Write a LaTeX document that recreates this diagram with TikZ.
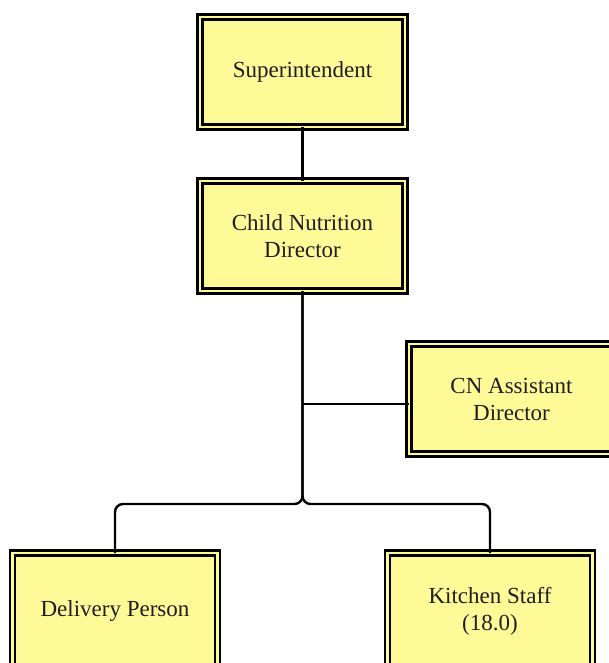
\documentclass[tikz,border=0pt]{standalone}
\usepackage{fontspec}
\setmainfont{Liberation Serif}
\definecolor{boxfill}{RGB}{255,250,152}
\definecolor{txt}{RGB}{30,30,30}
\begin{document}
\begin{tikzpicture}[x=1pt,y=-1pt,
  orgbox/.style={draw=black, fill=boxfill, double=boxfill, line width=2.6pt,
    double distance=2.6pt, minimum width=205pt, minimum height=110pt,
    inner sep=0pt, outer sep=0pt, align=center, text=txt,
    font=\fontsize{23}{27}\selectfont},
  tallbox/.style={orgbox, minimum height=116pt},
  link/.style={draw=black, line width=2.4pt, rounded corners=8pt}]
\useasboundingbox (0,0) rectangle (609,663);
\node[orgbox] (sup) at (302.5,72) {Superintendent};
\node[orgbox] (cnd) at (302.5,236) {Child Nutrition\\Director};
\node[orgbox] (cna) at (511.5,399) {CN Assistant\\Director};
\node[tallbox] (dp) at (115,611) {Delivery Person};
\node[tallbox] (ks) at (490,611) {Kitchen Staff\\(18.0)};
\coordinate (j) at (302.5,404);
\coordinate (fork) at (302.5,504);
\draw[link] (sup.south) -- (cnd.north);
\draw[link] (cnd.south) -- (fork) -| (dp.north);
\draw[link] (cnd.south) -- (fork) -| (ks.north);
\draw[link] (j) -- (j -| cna.west);
\end{tikzpicture}
\end{document}
